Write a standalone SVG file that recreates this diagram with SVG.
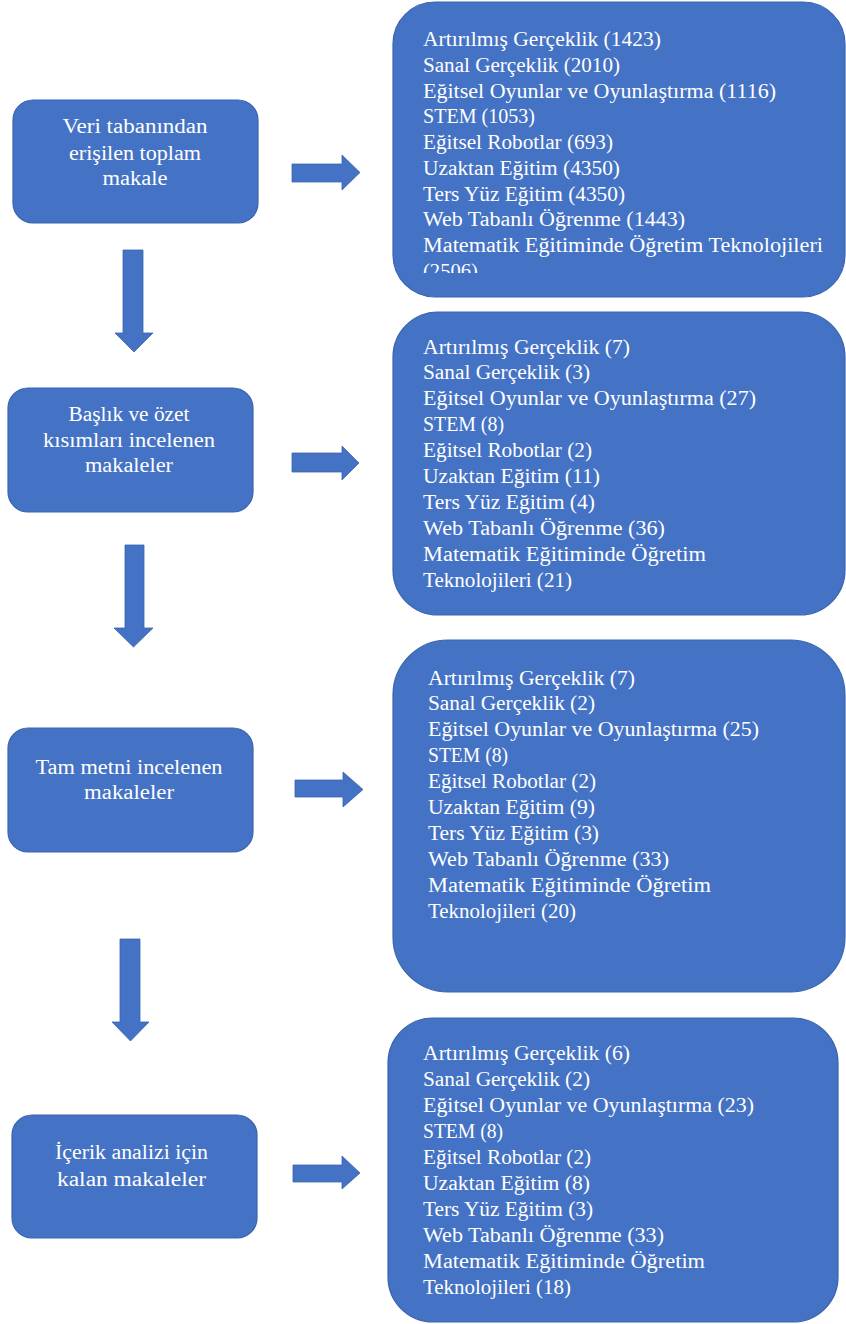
<svg xmlns="http://www.w3.org/2000/svg" width="846" height="1324" viewBox="0 0 846 1324">
<style>
.box{fill:#4472C4;stroke:#3A64AD;stroke-width:1.2}
.arr{fill:#4472C4;stroke:#3A64AD;stroke-width:0.8}
.t{font-family:"Liberation Serif","Times New Roman",serif;font-size:20px;fill:#ffffff}
.c{text-anchor:middle}
</style>
<defs>
<clipPath id="clip1"><rect x="390" y="0" width="456" height="273"/></clipPath>
</defs>
<rect width="846" height="1324" fill="#ffffff"/>
<g id="connectors">
<polygon class="arr" points="292,164 342,164 342,155 360,172.5 342,190 342,182 292,182"/>
<polygon class="arr" points="292,453 342,453 342,446 359,463 342,480 342,472 292,472"/>
<polygon class="arr" points="295,780 343,780 343,772 363,789.5 343,807 343,797 295,797"/>
<polygon class="arr" points="293,1165 342,1165 342,1156 360,1173 342,1189 342,1182 293,1182"/>
<polygon class="arr" points="123,250 143,250 143,333 153,333 134,352 115,333 123,333"/>
<polygon class="arr" points="125,545 144,545 144,628 153,628 133.5,647 114,628 125,628"/>
<polygon class="arr" points="120,939 140,939 140,1022 149,1022 130.5,1041 112,1022 120,1022"/>
</g>
<g id="n1">
<rect class="box" x="13" y="100" width="245" height="123" rx="20"/>
<text class="t c" x="135" y="133" textLength="145" lengthAdjust="spacingAndGlyphs">Veri tabanından</text>
<text class="t c" x="135" y="160" textLength="132" lengthAdjust="spacingAndGlyphs">erişilen toplam</text>
<text class="t c" x="135" y="185" textLength="65" lengthAdjust="spacingAndGlyphs">makale</text>
</g>
<g id="n2">
<rect class="box" x="8" y="388" width="245" height="124" rx="20"/>
<text class="t c" x="129" y="421" textLength="121" lengthAdjust="spacingAndGlyphs">Başlık ve özet</text>
<text class="t c" x="129" y="447" textLength="172" lengthAdjust="spacingAndGlyphs">kısımları incelenen</text>
<text class="t c" x="129" y="472" textLength="88" lengthAdjust="spacingAndGlyphs">makaleler</text>
</g>
<g id="n3">
<rect class="box" x="8" y="728" width="245" height="124" rx="20"/>
<text class="t c" x="129" y="774" textLength="187" lengthAdjust="spacingAndGlyphs">Tam metni incelenen</text>
<text class="t c" x="129" y="799" textLength="90" lengthAdjust="spacingAndGlyphs">makaleler</text>
</g>
<g id="n4">
<rect class="box" x="12" y="1115" width="245" height="123" rx="20"/>
<text class="t c" x="131.5" y="1159" textLength="153" lengthAdjust="spacingAndGlyphs">İçerik analizi için</text>
<text class="t c" x="131.5" y="1186" textLength="149" lengthAdjust="spacingAndGlyphs">kalan makaleler</text>
</g>
<g id="r1">
<rect class="box" x="393" y="2" width="452" height="295" rx="42"/>
<g clip-path="url(#clip1)">
<text class="t" x="423" y="46" textLength="238" lengthAdjust="spacingAndGlyphs">Artırılmış Gerçeklik (1423)</text>
<text class="t" x="423" y="71.7" textLength="197" lengthAdjust="spacingAndGlyphs">Sanal Gerçeklik (2010)</text>
<text class="t" x="423" y="97.5" textLength="353" lengthAdjust="spacingAndGlyphs">Eğitsel Oyunlar ve Oyunlaştırma (1116)</text>
<text class="t" x="423" y="123.2" textLength="112" lengthAdjust="spacingAndGlyphs">STEM (1053)</text>
<text class="t" x="423" y="149" textLength="190" lengthAdjust="spacingAndGlyphs">Eğitsel Robotlar  (693)</text>
<text class="t" x="423" y="174.7" textLength="197" lengthAdjust="spacingAndGlyphs">Uzaktan Eğitim (4350)</text>
<text class="t" x="423" y="200.5" textLength="202" lengthAdjust="spacingAndGlyphs">Ters Yüz Eğitim (4350)</text>
<text class="t" x="423" y="226.2" textLength="262" lengthAdjust="spacingAndGlyphs">Web Tabanlı Öğrenme (1443)</text>
<text class="t" x="423" y="252" textLength="400" lengthAdjust="spacingAndGlyphs">Matematik  Eğitiminde Öğretim Teknolojileri</text>
<text class="t" x="423" y="277.7" textLength="55" lengthAdjust="spacingAndGlyphs">(2506)</text>
</g>
</g>
<g id="r2">
<rect class="box" x="393" y="312" width="452" height="303" rx="45"/>
<text class="t" x="423" y="353.5" textLength="207" lengthAdjust="spacingAndGlyphs">Artırılmış Gerçeklik (7)</text>
<text class="t" x="423" y="379.4" textLength="167" lengthAdjust="spacingAndGlyphs">Sanal Gerçeklik (3)</text>
<text class="t" x="423" y="405.3" textLength="333" lengthAdjust="spacingAndGlyphs">Eğitsel Oyunlar ve Oyunlaştırma (27)</text>
<text class="t" x="423" y="431.2" textLength="81" lengthAdjust="spacingAndGlyphs">STEM (8)</text>
<text class="t" x="423" y="457.1" textLength="169" lengthAdjust="spacingAndGlyphs">Eğitsel Robotlar  (2)</text>
<text class="t" x="423" y="483" textLength="177" lengthAdjust="spacingAndGlyphs">Uzaktan Eğitim (11)</text>
<text class="t" x="423" y="508.9" textLength="172" lengthAdjust="spacingAndGlyphs">Ters Yüz Eğitim (4)</text>
<text class="t" x="423" y="534.8" textLength="242" lengthAdjust="spacingAndGlyphs">Web Tabanlı Öğrenme (36)</text>
<text class="t" x="423" y="560.7" textLength="283" lengthAdjust="spacingAndGlyphs">Matematik  Eğitiminde Öğretim</text>
<text class="t" x="423" y="586.6" textLength="149" lengthAdjust="spacingAndGlyphs">Teknolojileri (21)</text>
</g>
<g id="r3">
<rect class="box" x="393" y="640" width="452" height="352" rx="55"/>
<text class="t" x="428" y="684.5" textLength="207" lengthAdjust="spacingAndGlyphs">Artırılmış Gerçeklik (7)</text>
<text class="t" x="428" y="710.4" textLength="167" lengthAdjust="spacingAndGlyphs">Sanal Gerçeklik (2)</text>
<text class="t" x="428" y="736.3" textLength="331" lengthAdjust="spacingAndGlyphs">Eğitsel Oyunlar ve Oyunlaştırma (25)</text>
<text class="t" x="428" y="762.2" textLength="80" lengthAdjust="spacingAndGlyphs">STEM (8)</text>
<text class="t" x="428" y="788.1" textLength="168" lengthAdjust="spacingAndGlyphs">Eğitsel Robotlar  (2)</text>
<text class="t" x="428" y="814" textLength="167" lengthAdjust="spacingAndGlyphs">Uzaktan Eğitim (9)</text>
<text class="t" x="428" y="839.9" textLength="171" lengthAdjust="spacingAndGlyphs">Ters Yüz Eğitim (3)</text>
<text class="t" x="428" y="865.8" textLength="241" lengthAdjust="spacingAndGlyphs">Web Tabanlı Öğrenme (33)</text>
<text class="t" x="428" y="891.7" textLength="283" lengthAdjust="spacingAndGlyphs">Matematik  Eğitiminde Öğretim</text>
<text class="t" x="428" y="917.6" textLength="148" lengthAdjust="spacingAndGlyphs">Teknolojileri (20)</text>
</g>
<g id="r4">
<rect class="box" x="388" y="1018" width="450" height="304" rx="45"/>
<text class="t" x="423" y="1059.5" textLength="207" lengthAdjust="spacingAndGlyphs">Artırılmış Gerçeklik (6)</text>
<text class="t" x="423" y="1085.5" textLength="167" lengthAdjust="spacingAndGlyphs">Sanal Gerçeklik (2)</text>
<text class="t" x="423" y="1111.5" textLength="331" lengthAdjust="spacingAndGlyphs">Eğitsel Oyunlar ve Oyunlaştırma (23)</text>
<text class="t" x="423" y="1137.5" textLength="80" lengthAdjust="spacingAndGlyphs">STEM (8)</text>
<text class="t" x="423" y="1163.5" textLength="168" lengthAdjust="spacingAndGlyphs">Eğitsel Robotlar  (2)</text>
<text class="t" x="423" y="1189.5" textLength="167" lengthAdjust="spacingAndGlyphs">Uzaktan Eğitim (8)</text>
<text class="t" x="423" y="1215.5" textLength="170" lengthAdjust="spacingAndGlyphs">Ters Yüz Eğitim (3)</text>
<text class="t" x="423" y="1241.5" textLength="241" lengthAdjust="spacingAndGlyphs">Web Tabanlı Öğrenme (33)</text>
<text class="t" x="423" y="1267.5" textLength="282" lengthAdjust="spacingAndGlyphs">Matematik  Eğitiminde Öğretim</text>
<text class="t" x="423" y="1293.5" textLength="148" lengthAdjust="spacingAndGlyphs">Teknolojileri (18)</text>
</g>
</svg>
